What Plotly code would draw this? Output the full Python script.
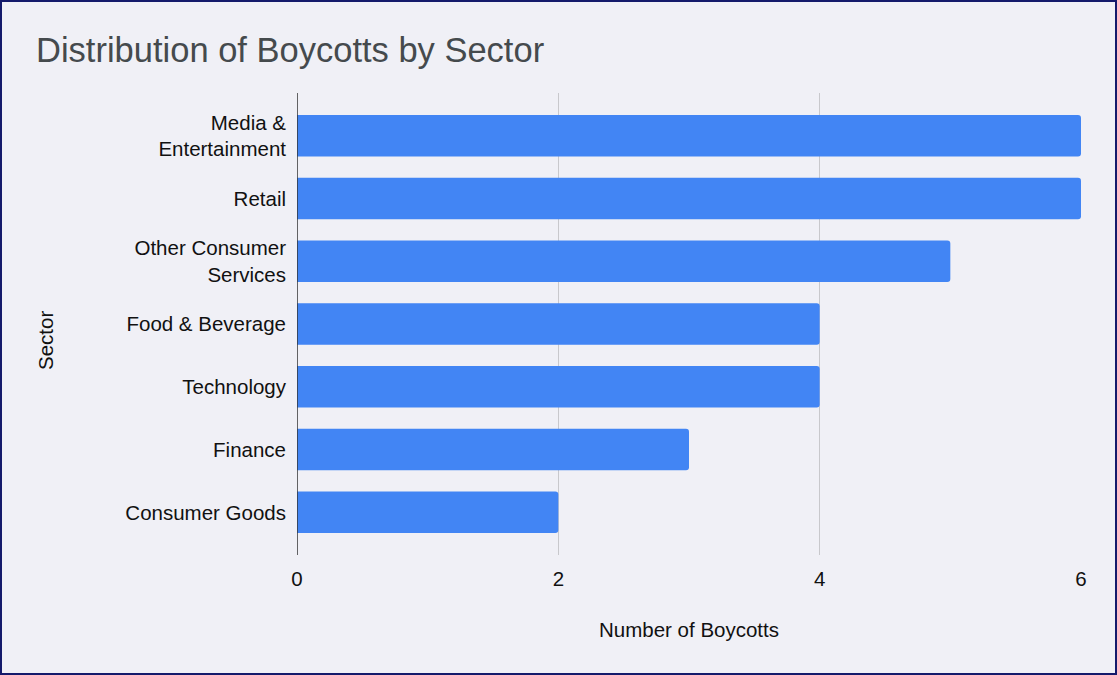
import plotly.graph_objects as go

# Boycott counts per sector
sectors = [
    "Media &<br>Entertainment",
    "Retail",
    "Other Consumer<br>Services",
    "Food & Beverage",
    "Technology",
    "Finance",
    "Consumer Goods",
]
boycotts = [6, 6, 5, 4, 4, 3, 2]
x_ticks = [0, 2, 4, 6]

W, H = 1117, 675
L, R, T, B = 297, 36, 93, 120
pw, ph = W - L - R, H - T - B

FONT = "Arial, 'Liberation Sans', sans-serif"
BG = "#f0f0f6"
TXT = 20.5

fig = go.Figure(
    go.Bar(
        x=boycotts,
        y=sectors,
        orientation="h",
        marker=dict(color="#4285f4", line=dict(width=0), cornerradius=3),
        width=0.66,
        hoverinfo="x+y",
    )
)

fig.update_layout(
    width=W,
    height=H,
    autosize=False,
    margin=dict(l=L, r=R, t=T, b=B, pad=0),
    paper_bgcolor=BG,
    plot_bgcolor=BG,
    font=dict(family=FONT, color="#111111", size=TXT),
    showlegend=False,
    title=dict(
        text="Distribution of Boycotts by Sector",
        font=dict(family=FONT, size=34.5, color="#454a4d"),
        xref="container",
        yref="container",
        x=36 / W,
        xanchor="left",
        y=1 - 50 / H,
        yanchor="middle",
    ),
    xaxis=dict(
        range=[0, 6],
        tickvals=x_ticks,
        ticktext=[str(v) for v in x_ticks],
        showgrid=True,
        gridcolor="#c8c8cc",
        gridwidth=1,
        zeroline=False,
        showline=False,
        ticks="",
        ticklabelstandoff=9,
        tickfont=dict(size=TXT, color="#111111"),
        fixedrange=True,
    ),
    yaxis=dict(
        categoryorder="array",
        categoryarray=sectors,
        range=[6.68, -0.68],
        showgrid=False,
        zeroline=False,
        showline=False,
        ticks="",
        ticklabelstandoff=10,
        tickfont=dict(size=TXT, color="#111111"),
        fixedrange=True,
    ),
    shapes=[
        # dark baseline at zero
        dict(
            type="line",
            xref="x",
            yref="paper",
            x0=0,
            x1=0,
            y0=0,
            y1=1,
            line=dict(color="#333333", width=1.5),
            layer="above",
        ),
        # frame around the whole figure
        dict(
            type="rect",
            xref="paper",
            yref="paper",
            x0=(-L + 1) / pw,
            x1=(pw + R - 1) / pw,
            y0=(-B + 1) / ph,
            y1=(ph + T - 1) / ph,
            line=dict(color="#141a6b", width=2),
            fillcolor="rgba(0,0,0,0)",
            layer="above",
        ),
    ],
    annotations=[
        dict(
            text="Number of Boycotts",
            xref="paper",
            yref="paper",
            x=(689 - L) / pw,
            y=-(629 - (T + ph)) / ph,
            xanchor="center",
            yanchor="middle",
            showarrow=False,
            font=dict(family=FONT, size=TXT, color="#111111"),
        ),
        dict(
            text="Sector",
            xref="paper",
            yref="paper",
            x=(45 - L) / pw,
            y=1 - (340 - T) / ph,
            xanchor="center",
            yanchor="middle",
            textangle=-90,
            showarrow=False,
            font=dict(family=FONT, size=TXT, color="#111111"),
        ),
    ],
)

fig.write_html("out.html")
